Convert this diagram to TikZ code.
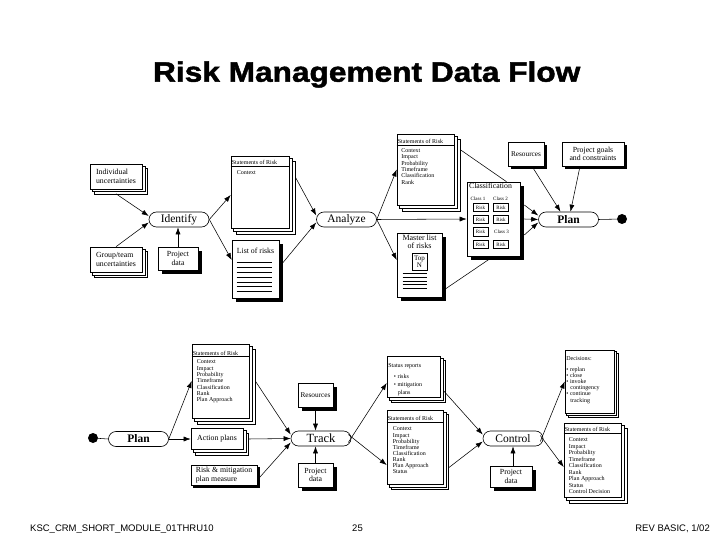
\documentclass[tikz,border=0pt]{standalone}
\usepackage{fontspec}
\usepackage{graphicx}
\setmainfont{Liberation Serif}
\newfontfamily\sansfam{Liberation Sans}
\newfontfamily\titlefam[FakeBold=1.6]{Liberation Sans Bold}
\usetikzlibrary{arrows.meta,shapes.misc,backgrounds,calc}

\newcommand\fStad{\fontsize{11.5bp}{13bp}\selectfont}
\newcommand\fBox{\fontsize{7.8bp}{8.6bp}\selectfont}
\newcommand\fRes{\fontsize{7.3bp}{8.2bp}\selectfont}
\newcommand\fDoc{\fontsize{6bp}{6.3bp}\selectfont}
\newcommand\fTiny{\fontsize{5bp}{6bp}\selectfont}

\newcommand\stackof[2]{%
 \begin{scope}[on background layer]
 \draw[boxline,fill=white] ([shift={({2*#2*1bp},{-2*#2*1bp})}]#1.north west) rectangle ([shift={({2*#2*1bp},{-2*#2*1bp})}]#1.south east);
 \draw[boxline,fill=white] ([shift={({#2*1bp},{-#2*1bp})}]#1.north west) rectangle ([shift={({#2*1bp},{-#2*1bp})}]#1.south east);
 \end{scope}}
\newcommand\shadowof[2]{%
 \begin{scope}[on background layer]
 \fill ([shift={({#2*1bp},{-#2*1bp})}]#1.north west) rectangle ([shift={({#2*1bp},{-#2*1bp})}]#1.south east);
 \end{scope}}

\tikzset{
 boxline/.style={line width=0.6bp},
 plainbox/.style={draw, fill=white, boxline, inner sep=1bp, font=\fBox, align=center},
 stad/.style={draw, fill=white, boxline, rounded rectangle, minimum width=60bp, minimum height=15bp, inner sep=0pt, font=\fStad},
 riskbox/.style={draw, fill=white, line width=0.5bp, minimum width=15bp, minimum height=8.5bp, inner sep=0pt, font=\fTiny},
 tinytext/.style={inner sep=0pt, font=\fTiny},
 doctext/.style={inner sep=0pt, font=\fDoc, align=left},
 arr/.style={-{Latex[length=7bp,width=5bp]}, line width=0.55bp},
 ln/.style={line width=0.55bp},
 enddot/.style={circle, fill=black, minimum size=10bp, inner sep=0pt},
 footer/.style={inner sep=0pt, font=\sansfam\fontsize{9.5bp}{11bp}\selectfont},
}

\begin{document}
\begin{tikzpicture}[x=1bp,y=-1bp]
\begin{scope}[on background layer]
\fill[white] (0,0) rectangle (720,540);
\end{scope}
\useasboundingbox (0,0) rectangle (720,540);

% title
\node[anchor=base, inner sep=0pt] (title) at (366.7,81.7) {\scalebox{1.13}[1]{\titlefam\fontsize{28bp}{30bp}\selectfont Risk Management Data Flow}};

% ================= top half =================
\node[plainbox, minimum width=52bp, minimum height=25bp, align=left] (indiv) at (116,176.5) {Individual\\uncertainties};
\stackof{indiv}{2.5}
\node[plainbox, minimum width=52bp, minimum height=25bp, align=left] (group) at (116,259.5) {Group/team\\uncertainties};
\stackof{group}{2.5}
\node[stad] (identify) at (179,219.5) {Identify};
\node[plainbox, minimum width=40bp, minimum height=23bp] (pdata1) at (178,258.5) {Project\\data};
\shadowof{pdata1}{4}

\node[plainbox, minimum width=58bp, minimum height=72bp] (sor1) at (260,192) {};
\stackof{sor1}{3}
\node[doctext, anchor=base west] at ([shift={(1bp,-9bp)}]sor1.north west) {Statements of Risk};
\draw[ln] ([yshift=-10.5bp]sor1.north west) -- ([yshift=-10.5bp]sor1.north east);
\node[doctext, anchor=north west] at ([shift={(6bp,-15bp)}]sor1.north west) {Context};

\node[plainbox, minimum width=47bp, minimum height=58bp] (list) at (255.5,269) {};
\shadowof{list}{4}
\node[inner sep=0pt, font=\fBox] at ([yshift=-11bp]list.north) {List of risks};
\foreach \i in {0,...,6}
  \draw[ln] ([shift={(5bp,{-(23+4.8*\i)*1bp})}]list.north west) -- ++(35,0);

\node[stad] (analyze) at (346.5,219.5) {Analyze};

\node[plainbox, minimum width=57bp, minimum height=71bp] (sor2) at (425.5,169.5) {};
\stackof{sor2}{3}
\node[doctext, anchor=base west] at ([shift={(1bp,-10bp)}]sor2.north west) {Statements of Risk};
\draw[ln] ([yshift=-11.5bp]sor2.north west) -- ([yshift=-11.5bp]sor2.north east);
\node[doctext, anchor=north west] at ([shift={(4.5bp,-14.7bp)}]sor2.north west) {Context\\Impact\\Probability\\Timeframe\\Classification\\Rank};

\node[plainbox, minimum width=45bp, minimum height=64bp] (master) at (419.5,265) {};
\shadowof{master}{4}
\node[inner sep=0pt, anchor=north, align=center, font=\fontsize{8bp}{8.4bp}\selectfont] at ([yshift=-2bp]master.north) {Master list\\of risks};
\node[plainbox, minimum width=15bp, minimum height=17bp, inner sep=0pt, font=\fontsize{7bp}{7.5bp}\selectfont] (topn) at (419.5,261.5) {Top\\N};
\foreach \i in {0,...,4}
  \draw[ln] ([shift={(6bp,{-(41+3.6*\i)*1bp})}]master.north west) -- ++(24,0);

\node[plainbox, minimum width=53bp, minimum height=74bp] (classif) at (493.5,219) {};
\shadowof{classif}{4}
\node[inner sep=0pt, anchor=north, font=\fBox] at ([shift={(-3bp,-1.5bp)}]classif.north) {Classification};
\node[tinytext] at (478,199) {Class 1};
\node[tinytext] at (500.5,199) {Class 2};
\node[riskbox] (r1a) at (480.5,207.5) {Risk};
\node[riskbox] (r1b) at (501,207.5) {Risk};
\node[riskbox] (r2a) at (480.5,219.5) {Risk};
\node[riskbox] (r2b) at (501,219.5) {Risk};
\node[riskbox] (r3a) at (480.5,232) {Risk};
\node[tinytext] at (501.5,232) {Class 3};
\node[riskbox] (r4a) at (480.5,244.5) {Risk};
\node[riskbox] (r4b) at (501,244.5) {Risk};

\node[stad, font=\fStad\bfseries] (plan1) at (568.5,219.5) {Plan};
\node[enddot] (end1) at (622,219) {};
\node[plainbox, minimum width=36bp, minimum height=24bp, font=\fRes, inner sep=0.5bp] (res1) at (526,154) {Resources};
\shadowof{res1}{3}
\node[plainbox, minimum width=62bp, minimum height=24bp] (goals) at (593,154) {Project goals\\and constraints};
\shadowof{goals}{3}

% top connectors
\draw[arr] ([yshift=-4.5bp]indiv.south) -- ([yshift=3.5bp]identify.west);
\draw[arr] (group.north) -- ([yshift=-3bp]identify.west);
\draw[arr] (pdata1.north) -- (pdata1.north |- identify.south);
\draw[arr] (identify.east) -- ([yshift=-3bp]sor1.west);
\draw[arr] (identify.east) -- ([yshift=9bp]list.west);
\draw[arr] ([shift={(6bp,15bp)}]sor1.east) -- ([yshift=4bp]analyze.west);
\draw[arr] ([yshift=2bp]list.east) -- ([yshift=-3bp]analyze.west);
\draw[arr] (analyze.east) -- (sor2.west);
\draw[arr] (analyze.east) -- (classif.west);
\draw[arr] (analyze.east) -- ([yshift=5bp]master.west);
\draw[ln] ([shift={(6bp,-16bp)}]sor2.north east) -- ([xshift=13bp]classif.north);
\draw[ln] ([shift={(3bp,-24bp)}]master.east) -- (classif.south);
\draw[arr] ([shift={(4bp,14bp)}]classif.east) -- ([yshift=4bp]plan1.west);
\draw[arr] ([xshift=4bp]classif.east) -- (plan1.west);
\draw[arr] ([shift={(4bp,-16bp)}]classif.east) -- ([yshift=-3bp]plan1.west);
\draw[arr] ([xshift=6bp]res1.south) -- ([xshift=-8bp]plan1.north);
\draw[arr] ([xshift=-13bp]goals.south) -- ([xshift=2bp]plan1.north);
\draw[ln] (plan1.east) -- (end1);

% ================= bottom half =================
\node[enddot] (start2) at (93,438) {};
\node[stad, font=\fStad\bfseries] (plan2) at (138.5,439) {Plan};

\node[plainbox, minimum width=57bp, minimum height=74bp] (sor3) at (220.5,381) {};
\stackof{sor3}{3}
\node[doctext, anchor=base west] at ([shift={(1bp,-11.5bp)}]sor3.north west) {Statements of Risk};
\draw[ln] ([yshift=-13bp]sor3.north west) -- ([yshift=-13bp]sor3.north east);
\node[doctext, anchor=north west] at ([shift={(5bp,-16bp)}]sor3.north west) {Context\\Impact\\Probability\\Timeframe\\Classification\\Rank\\Plan Approach};

\node[plainbox, minimum width=52bp, minimum height=21bp] (action) at (217,439) {Action plans};
\stackof{action}{2.5}
\node[plainbox, minimum width=66bp, minimum height=20bp, align=left] (riskm) at (224,475) {Risk \& mitigation\\plan measure};
\shadowof{riskm}{2.5}

\node[stad, font=\fontsize{12.5bp}{14bp}\selectfont] (track) at (321,438.5) {Track};
\node[plainbox, minimum width=35bp, minimum height=24bp, font=\fRes, inner sep=0.5bp] (res2) at (315.5,395) {Resources};
\shadowof{res2}{4}
\node[plainbox, minimum width=35bp, minimum height=24bp] (pdata2) at (315.5,475) {Project\\data};
\shadowof{pdata2}{4}

\node[plainbox, minimum width=53bp, minimum height=41bp] (status) at (413.5,376.5) {};
\stackof{status}{2.5}
\node[doctext, anchor=north west] at ([shift={(1.5bp,-8bp)}]status.north west) {Status reports};
\node[doctext, anchor=north west, font=\fontsize{6bp}{8bp}\selectfont] at ([shift={(7bp,-18bp)}]status.north west) {\textbullet\ risks\\\textbullet\ mitigation\\\hspace*{4bp}plans};

\node[plainbox, minimum width=56bp, minimum height=74bp] (sor4) at (415,447) {};
\stackof{sor4}{2.5}
\node[doctext, anchor=base west] at ([shift={(1bp,-11bp)}]sor4.north west) {Statements of Risk};
\draw[ln] ([yshift=-12.5bp]sor4.north west) -- ([yshift=-12.5bp]sor4.north east);
\node[doctext, anchor=north west, font=\fontsize{6bp}{6.15bp}\selectfont] at ([shift={(6bp,-17bp)}]sor4.north west) {Context\\Impact\\Probability\\Timeframe\\Classification\\Rank\\Plan Approach\\Status};

\node[stad] (control) at (513,438.5) {Control};
\node[plainbox, minimum width=42bp, minimum height=21bp] (pdata3) at (511,476.5) {Project\\data};
\shadowof{pdata3}{4}

\node[plainbox, minimum width=49bp, minimum height=63bp] (decis) at (589.5,381.5) {};
\stackof{decis}{2}
\node[doctext, anchor=north west] at ([shift={(1.5bp,-7bp)}]decis.north west) {Decisions:};
\node[doctext, anchor=north west, font=\fontsize{6bp}{6.2bp}\selectfont] at ([shift={(1.5bp,-17bp)}]decis.north west) {\textbullet\ replan\\\textbullet\ close\\\textbullet\ invoke\\\hspace*{4bp}contingency\\\textbullet\ continue\\\hspace*{4bp}tracking};

\node[plainbox, minimum width=57bp, minimum height=74bp] (sor5) at (592.5,460) {};
\stackof{sor5}{3}
\node[doctext, anchor=base west] at ([shift={(1bp,-9bp)}]sor5.north west) {Statements of Risk};
\draw[ln] ([yshift=-10.5bp]sor5.north west) -- ([yshift=-10.5bp]sor5.north east);
\node[doctext, anchor=north west, font=\fontsize{6bp}{6.5bp}\selectfont] at ([shift={(5bp,-15bp)}]sor5.north west) {Context\\Impact\\Probability\\Timeframe\\Classification\\Rank\\Plan Approach\\Status\\Control Decision};

% bottom connectors
\draw[ln] (start2) -- (plan2.west);
\draw[arr] (plan2.east) -- (sor3.west);
\draw[arr] (plan2.east) -- (action.west);
\draw[arr] ([xshift=5bp]action.east) -- (track.west);
\draw[arr] ([xshift=6bp]sor3.east) -- ([yshift=4bp]track.west);
\draw[arr] ([yshift=-5bp]riskm.east) -- ([yshift=-4bp]track.west);
\draw[arr] (res2.south) -- (res2.south |- track.north);
\draw[arr] (pdata2.north) -- (pdata2.north |- track.south);
\draw[arr] ([shift={(-3bp,-4bp)}]track.east) -- ([yshift=-6.5bp]status.west);
\draw[arr] ([shift={(-3bp,4bp)}]track.east) -- ([yshift=-18bp]sor4.west);
\draw[arr] ([shift={(3bp,-14bp)}]status.east) -- ([yshift=4bp]control.west);
\draw[arr] ([shift={(5bp,-21bp)}]sor4.east) -- ([yshift=-3bp]control.west);
\draw[arr] (control.south |- pdata3.north) -- (control.south);
\draw[arr] ([shift={(-3bp,-3bp)}]control.east) -- (decis.west);
\draw[arr] ([shift={(-3bp,3bp)}]control.east) -- ([yshift=-7bp]sor5.west);

% footer
\node[footer, anchor=base west] (foot1) at (30,531) {KSC\_CRM\_SHORT\_MODULE\_01THRU10};
\node[footer, anchor=base] (foot2) at (357.5,531) {25};
\node[footer, anchor=base east] (foot3) at (710,531) {REV BASIC, 1/02};
\end{tikzpicture}
\end{document}
